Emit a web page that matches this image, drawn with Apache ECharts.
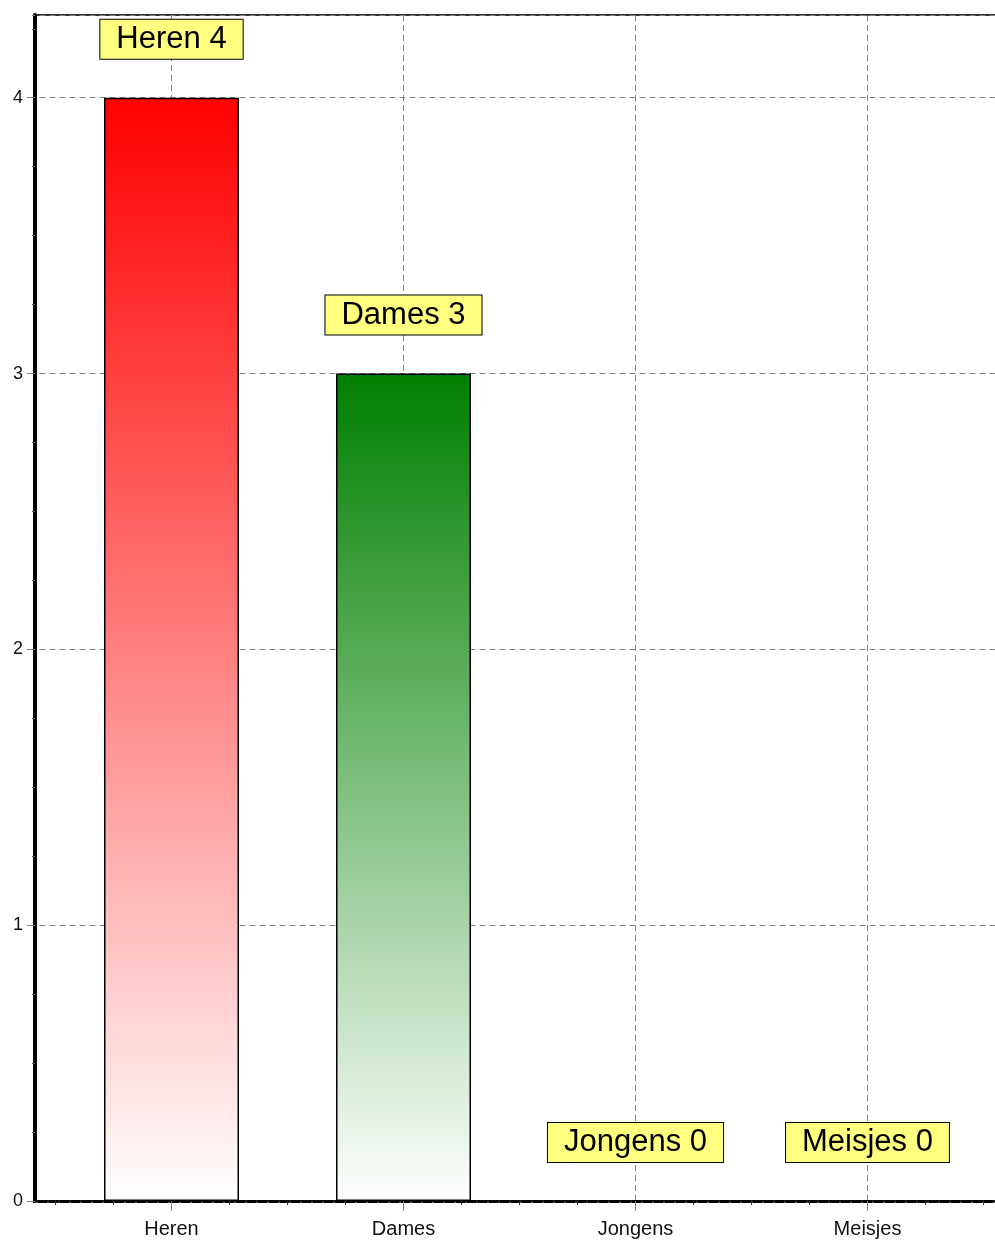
<!DOCTYPE html>
<html>
<head>
<meta charset="utf-8">
<script src="https://cdn.jsdelivr.net/npm/echarts@6/dist/echarts.min.js"></script>
<style>
  html, body { margin: 0; padding: 0; background: #fff; overflow: hidden; }
  #chart { width: 1110px; height: 1241px; }
</style>
</head>
<body>
<div id="chart"></div>
<script>
const categories = ['Heren', 'Dames', 'Jongens', 'Meisjes'];
const values = [4, 3, 0, 0];
const topColors = ['#ff0000', '#007f00', '#0000ff', '#ff00ff'];
const yTicks = [0, 1, 2, 3, 4];

const chart = echarts.init(document.getElementById('chart'));
const isInt = v => Math.abs(v - Math.round(v)) < 1e-6;
const font = 'Liberation Sans, Arial, sans-serif';

const data = values.map((v, i) => ({
  value: [i + 1, v],
  itemStyle: {
    color: new echarts.graphic.LinearGradient(0, 0, 0, 1, [
      { offset: 0, color: topColors[i] },
      { offset: 1, color: '#ffffff' }
    ]),
    borderColor: '#000',
    borderWidth: v === 0 ? 0 : 1.5
  }
}));

const dashed = { color: '#808080', type: [6, 4], width: 1 };

chart.setOption({
  animation: false,
  backgroundColor: '#ffffff',
  grid: {
    left: -60.5, top: 15, width: 1160, height: 1186,
    outerBoundsMode: 'none', containLabel: false,
    show: true, borderColor: '#333', borderWidth: 2, backgroundColor: '#fff'
  },
  graphic: [{
    type: 'rect', z: 5, silent: true,
    shape: { x: 0, y: 0, width: 33, height: 1241 },
    style: { fill: '#ffffff' }
  }, {
    type: 'rect', z: 11, silent: true,
    shape: { x: 0, y: 0, width: 32, height: 20 },
    style: { fill: '#ffffff' }
  }],
  xAxis: {
    type: 'value', min: 0, max: 5, interval: 1,
    axisLine: { show: true, lineStyle: { color: '#000', width: 3, type: [8, 3] } },
    axisTick: { show: true, length: 10, lineStyle: { color: '#808080' } },
    minorTick: { show: true, splitNumber: 4, length: 4, lineStyle: { color: '#333' } },
    axisLabel: {
      margin: 18, fontSize: 20, color: '#111', fontFamily: font,
      formatter: v => (isInt(v) && v >= 1 && v <= categories.length) ? categories[Math.round(v) - 1] : ''
    },
    splitLine: { show: true, lineStyle: dashed }
  },
  yAxis: [{
    type: 'value', min: 0, max: 4.3, interval: 1,
    axisLine: { show: false },
    axisTick: { show: false },
    axisLabel: { show: false },
    splitLine: { show: true, lineStyle: dashed }
  }, {
    type: 'value', min: 0, max: 4.3, interval: 1,
    position: 'left', offset: -95.5, z: 10,
    axisLine: { show: true, onZero: false, lineStyle: { color: '#000', width: 4 } },
    axisTick: { show: true, length: 8, lineStyle: { color: '#808080' } },
    minorTick: { show: true, splitNumber: 4, length: 3, lineStyle: { color: '#555' } },
    axisLabel: {
      showMaxLabel: false, margin: 12, fontSize: 18, color: '#111', fontFamily: font,
      formatter: v => (isInt(v) && yTicks.indexOf(Math.round(v)) >= 0) ? String(Math.round(v)) : ''
    },
    splitLine: { show: false }
  }],
  series: [{
    type: 'bar',
    yAxisIndex: 0,
    barWidth: 135,
    data: data,
    label: {
      show: true,
      position: 'top',
      distance: 39,
      formatter: p => categories[p.dataIndex] + ' ' + values[p.dataIndex],
      fontSize: 31,
      lineHeight: 31,
      color: '#000',
      fontFamily: font,
      backgroundColor: '#ffff80',
      borderColor: '#000',
      borderWidth: 1,
      padding: [4, 16]
    }
  }]
});
</script>
</body>
</html>
